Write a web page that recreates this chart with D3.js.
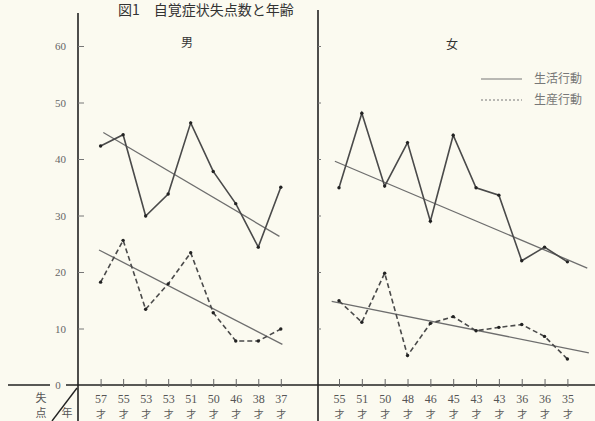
<!DOCTYPE html>
<html>
<head>
<meta charset="utf-8">
<script src="https://cdn.jsdelivr.net/npm/d3@7"></script>
<style>
  html, body { margin: 0; padding: 0; background: #fbfaf0; }
  svg { display: block; }
  .num { font-family: "Liberation Serif", "DejaVu Serif", serif; fill: #666; }
  .jp { font-family: "Noto Sans CJK JP", sans-serif; fill: #555; }
</style>
</head>
<body>
<script>
// ages (才) along the bottom of each panel
const maleAges = [57, 55, 53, 53, 51, 50, 46, 38, 37];
const femaleAges = [55, 51, 50, 48, 46, 45, 43, 43, 36, 36, 35];

// 生活行動 (solid) and 生産行動 (dashed) 失点数
const maleLife = [42.3, 44.3, 29.9, 33.8, 46.4, 37.8, 32.1, 24.4, 35.0];
const maleWork = [18.2, 25.6, 13.4, 17.9, 23.4, 12.8, 7.8, 7.8, 9.9];
const femaleLife = [34.9, 48.1, 35.2, 42.9, 29.0, 44.2, 34.9, 33.6, 22.0, 24.4, 21.8];
const femaleWork = [14.9, 11.1, 19.8, 5.2, 10.9, 12.1, 9.6, 10.2, 10.7, 8.6, 4.6];

// trend lines as [start index, start value, end index, end value]
const maleLifeTrend = [0.12, 44.7, 7.94, 26.3];
const maleWorkTrend = [-0.07, 23.9, 8.07, 7.2];
const femaleLifeTrend = [-0.18, 39.6, 10.87, 20.7];
const femaleWorkTrend = [-0.32, 14.8, 10.94, 5.7];

const yTicks = [10, 20, 30, 40, 50, 60];
const legendLabels = ['生活行動', '生産行動'];

const width = 595;
const height = 421;
const baseY = 385;

const svg = d3.select('body')
              .append('svg')
              .attr('width', width)
              .attr('height', height);

const yScale = d3.scaleLinear()
                 .domain([0, 60])
                 .range([baseY, 46]);

const xMale = d3.scaleLinear()
                .domain([0, maleAges.length - 1])
                .range([100.6, 280.8]);

const xFemale = d3.scaleLinear()
                  .domain([0, femaleAges.length - 1])
                  .range([339, 567.4]);

// title at the top edge
svg.append('text')
   .attr('class', 'jp')
   .attr('x', 118)
   .attr('y', 15)
   .style('font-size', '14px')
   .style('fill', '#333')
   .text('図1　自覚症状失点数と年齢');

// left value axis
svg.append('line')
   .attr('x1', 78).attr('x2', 78)
   .attr('y1', 13).attr('y2', height)
   .attr('stroke', '#222').attr('stroke-width', 1.6);

const yAxis = d3.axisLeft(yScale).tickValues(yTicks).tickSize(6).tickPadding(6);
const yAxisG = svg.append('g')
                  .attr('transform', 'translate(78,0)')
                  .call(yAxis);
yAxisG.select('.domain').remove();
yAxisG.selectAll('.tick line').attr('x2', 6).attr('stroke', '#777');
yAxisG.selectAll('.tick text')
      .attr('class', 'num')
      .style('font-size', '11px');

// middle divider with its small ticks
svg.append('line')
   .attr('x1', 318).attr('x2', 318)
   .attr('y1', 10).attr('y2', height)
   .attr('stroke', '#222').attr('stroke-width', 1.6);

const midAxis = d3.axisLeft(yScale).tickValues(yTicks).tickSize(5).tickFormat('');
const midG = svg.append('g')
                .attr('transform', 'translate(318,0)')
                .call(midAxis);
midG.select('.domain').remove();
midG.selectAll('.tick line').attr('x2', 3).attr('stroke', '#777');

// base line, broken by the 0 label
svg.append('line')
   .attr('x1', 8).attr('x2', 50)
   .attr('y1', baseY).attr('y2', baseY)
   .attr('stroke', '#222').attr('stroke-width', 1.6);
svg.append('line')
   .attr('x1', 66).attr('x2', width)
   .attr('y1', baseY).attr('y2', baseY)
   .attr('stroke', '#222').attr('stroke-width', 1.6);
svg.append('text')
   .attr('class', 'num')
   .attr('x', 58).attr('y', baseY + 4)
   .attr('text-anchor', 'middle')
   .style('font-size', '11px')
   .text('0');

// corner header
svg.append('line')
   .attr('x1', 77).attr('y1', baseY + 3)
   .attr('x2', 52).attr('y2', height)
   .attr('stroke', '#222').attr('stroke-width', 1.4);
[['失', 41, 402], ['点', 41, 417], ['年', 67, 417]].forEach((d) => {
  svg.append('text')
     .attr('class', 'jp')
     .attr('x', d[1]).attr('y', d[2])
     .attr('text-anchor', 'middle')
     .style('font-size', '11px')
     .text(d[0]);
});

const drawAges = (xScale, ages) => {
  const axis = d3.axisBottom(xScale)
                 .tickValues(d3.range(ages.length))
                 .tickFormat((i) => ages[i])
                 .tickSize(0)
                 .tickPadding(9);
  const g = svg.append('g')
               .attr('transform', 'translate(0,' + baseY + ')')
               .call(axis);
  g.select('.domain').remove();
  g.selectAll('.tick line')
   .attr('y1', -6).attr('y2', 2)
   .attr('stroke', '#666');
  g.selectAll('.tick text')
   .attr('class', 'num')
   .style('font-size', '12px')
   .style('fill', '#555');
  g.selectAll('.tick')
   .append('text')
   .attr('class', 'jp')
   .attr('y', 33)
   .attr('text-anchor', 'middle')
   .style('font-size', '10px')
   .text('才');
};

drawAges(xMale, maleAges);
drawAges(xFemale, femaleAges);

const drawSeries = (xScale, values, dashed) => {
  const line = d3.line()
                 .x((d, i) => xScale(i))
                 .y((d) => yScale(d));
  svg.append('path')
     .datum(values)
     .attr('d', line)
     .attr('fill', 'none')
     .attr('stroke', '#4a4a4a')
     .attr('stroke-width', 1.6)
     .attr('stroke-dasharray', dashed ? '5,3' : null);
  svg.append('g')
     .selectAll('circle')
     .data(values)
     .enter()
     .append('circle')
     .attr('cx', (d, i) => xScale(i))
     .attr('cy', (d) => yScale(d))
     .attr('r', 1.7)
     .attr('fill', '#222');
};

const drawTrend = (xScale, t) => {
  svg.append('line')
     .attr('x1', xScale(t[0])).attr('y1', yScale(t[1]))
     .attr('x2', xScale(t[2])).attr('y2', yScale(t[3]))
     .attr('stroke', '#6e6e6e')
     .attr('stroke-width', 1.3);
};

drawTrend(xMale, maleLifeTrend);
drawTrend(xMale, maleWorkTrend);
drawTrend(xFemale, femaleLifeTrend);
drawTrend(xFemale, femaleWorkTrend);

drawSeries(xMale, maleLife, false);
drawSeries(xMale, maleWork, true);
drawSeries(xFemale, femaleLife, false);
drawSeries(xFemale, femaleWork, true);

// panel labels
svg.append('text').attr('class', 'jp')
   .attr('x', 187).attr('y', 47)
   .attr('text-anchor', 'middle')
   .style('font-size', '12px').style('fill', '#333')
   .text('男');
svg.append('text').attr('class', 'jp')
   .attr('x', 452).attr('y', 49)
   .attr('text-anchor', 'middle')
   .style('font-size', '12px').style('fill', '#333')
   .text('女');

// legend
legendLabels.forEach((label, i) => {
  const ly = 79 + i * 21;
  svg.append('line')
     .attr('x1', 481).attr('x2', 522)
     .attr('y1', ly).attr('y2', ly)
     .attr('stroke', '#777')
     .attr('stroke-width', 1)
     .attr('stroke-dasharray', i === 1 ? '2,2' : null);
  svg.append('text')
     .attr('class', 'jp')
     .attr('x', 534).attr('y', ly + 4)
     .style('font-size', '12px')
     .style('fill', '#777')
     .text(label);
});
</script>
</body>
</html>
